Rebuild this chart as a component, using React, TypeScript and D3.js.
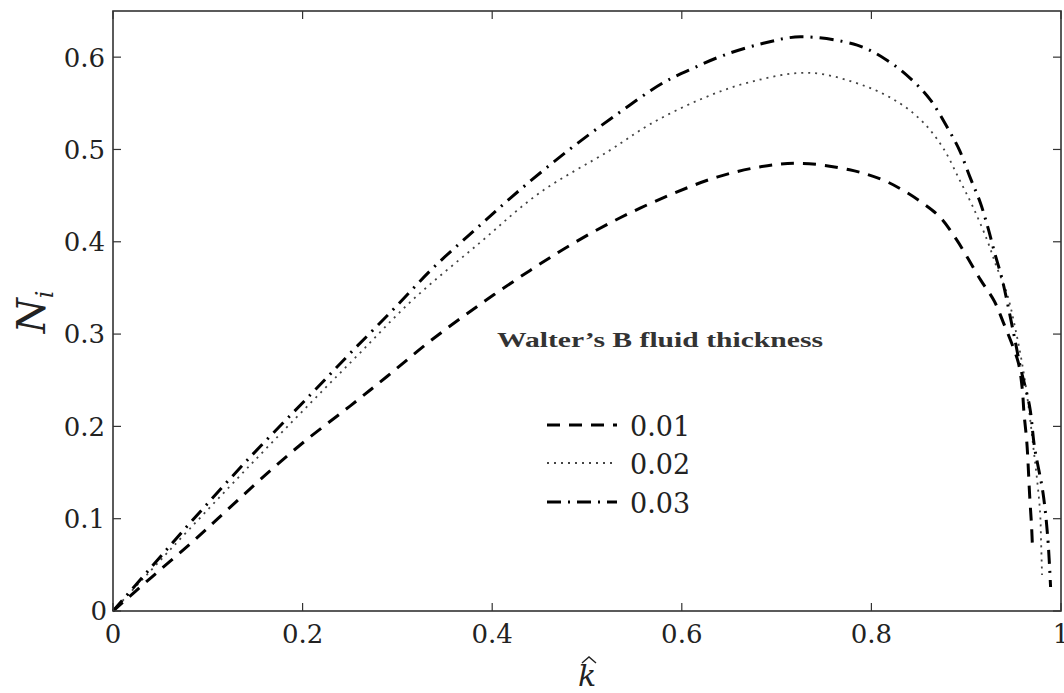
import React from "react";
import * as d3 from "d3";

// ---- data ----
const kDash01 = [0, 0.04, 0.084, 0.12, 0.155, 0.2, 0.25, 0.289, 0.334, 0.387, 0.44, 0.485, 0.535, 0.588, 0.637, 0.682, 0.725, 0.777, 0.812, 0.833, 0.854, 0.872, 0.89, 0.915, 0.93, 0.939, 0.948, 0.955, 0.959, 0.961, 0.964, 0.967, 0.969, 0.97];
const nDash01 = [0, 0.036, 0.075, 0.109, 0.142, 0.182, 0.222, 0.254, 0.292, 0.332, 0.369, 0.398, 0.426, 0.451, 0.47, 0.481, 0.485, 0.478, 0.467, 0.456, 0.442, 0.427, 0.402, 0.359, 0.335, 0.313, 0.29, 0.269, 0.242, 0.214, 0.182, 0.124, 0.091, 0.066];

const kDot02 = [0, 0.04, 0.08, 0.14, 0.208, 0.26, 0.316, 0.387, 0.45, 0.524, 0.566, 0.619, 0.672, 0.735, 0.795, 0.83, 0.855, 0.876, 0.893, 0.907, 0.922, 0.932, 0.943, 0.952, 0.96, 0.966, 0.971, 0.975, 0.978, 0.979, 0.98];
const nDot02 = [0, 0.044, 0.088, 0.153, 0.225, 0.279, 0.337, 0.399, 0.453, 0.499, 0.527, 0.554, 0.573, 0.583, 0.568, 0.55, 0.529, 0.501, 0.467, 0.438, 0.402, 0.373, 0.344, 0.305, 0.262, 0.22, 0.176, 0.14, 0.106, 0.075, 0.039];

const kDashDot03 = [0, 0.04, 0.081, 0.144, 0.208, 0.25, 0.295, 0.338, 0.384, 0.429, 0.479, 0.53, 0.58, 0.612, 0.644, 0.686, 0.725, 0.785, 0.816, 0.841, 0.862, 0.88, 0.893, 0.904, 0.915, 0.923, 0.93, 0.938, 0.95, 0.957, 0.967, 0.972, 0.981, 0.986, 0.989];
const nDashDot03 = [0, 0.047, 0.095, 0.166, 0.234, 0.279, 0.326, 0.372, 0.415, 0.456, 0.498, 0.537, 0.572, 0.588, 0.602, 0.615, 0.622, 0.613, 0.597, 0.577, 0.554, 0.524, 0.499, 0.47, 0.442, 0.415, 0.388, 0.359, 0.301, 0.265, 0.221, 0.178, 0.128, 0.08, 0.026];

const seriesLabels = ["0.01", "0.02", "0.03"];
const xTicks = [0, 0.2, 0.4, 0.6, 0.8, 1];
const yTicks = [0, 0.1, 0.2, 0.3, 0.4, 0.5, 0.6];
const legendTitle = "Walter\u2019s B fluid thickness";

const W = 1064, H = 693;
const M = { left: 113, right: 1061, top: 11, bottom: 611 };

export default function App() {
  const x = d3.scaleLinear().domain([0, 1]).range([M.left, M.right]);
  const y = d3.scaleLinear().domain([0, 0.65]).range([M.bottom, M.top]);
  const line = d3
    .line<[number, number]>()
    .x((d) => x(d[0]))
    .y((d) => y(d[1]))
    .curve(d3.curveCatmullRom.alpha(0.5));

  const series = [
    { label: seriesLabels[0], pts: kDash01.map((k, i) => [k, nDash01[i]] as [number, number]), dash: "13 9", width: 3, color: "#000" },
    { label: seriesLabels[1], pts: kDot02.map((k, i) => [k, nDot02[i]] as [number, number]), dash: "2 5", width: 1.8, color: "#444" },
    { label: seriesLabels[2], pts: kDashDot03.map((k, i) => [k, nDashDot03[i]] as [number, number]), dash: "14 7 2 7", width: 3, color: "#000" },
  ];

  const tickLen = 8;
  const tickFont = "'DejaVu Serif', serif";
  const legX0 = 547, legX1 = 617, legTextX = 630;
  const legYs = [425, 463, 502];

  return (
    <div style={{ position: "absolute", left: 0, top: 0 }}>
      <svg width={W} height={H} style={{ display: "block", background: "#fff" }}>
        {/* curves */}
        <g fill="none" strokeLinecap="butt">
          {series.map((s) => (
            <path key={s.label} d={line(s.pts) || ""} stroke={s.color} strokeWidth={s.width} strokeDasharray={s.dash} />
          ))}
        </g>

        {/* frame */}
        <rect x={M.left} y={M.top} width={M.right - M.left} height={M.bottom - M.top} fill="none" stroke="#333" strokeWidth={1.6} />

        {/* x ticks */}
        {xTicks.map((t) => (
          <g key={"x" + t}>
            <line x1={x(t)} x2={x(t)} y1={M.bottom} y2={M.bottom - tickLen} stroke="#333" strokeWidth={1.2} />
            <line x1={x(t)} x2={x(t)} y1={M.top} y2={M.top + tickLen} stroke="#333" strokeWidth={1.2} />
            <text x={x(t)} y={643} textAnchor="middle" fontFamily={tickFont} fontSize={26} fill="#222">
              {d3.format("~g")(t)}
            </text>
          </g>
        ))}

        {/* y ticks */}
        {yTicks.map((t) => (
          <g key={"y" + t}>
            <line x1={M.left} x2={M.left + tickLen} y1={y(t)} y2={y(t)} stroke="#333" strokeWidth={1.2} />
            <line x1={M.right} x2={M.right - tickLen} y1={y(t)} y2={y(t)} stroke="#333" strokeWidth={1.2} />
            <text x={t === 0 ? 107 : 105} y={y(t)} dy="0.36em" textAnchor="end" fontFamily={tickFont} fontSize={26} fill="#222">
              {d3.format("~g")(t)}
            </text>
          </g>
        ))}

        {/* axis labels */}
        <text transform="translate(45,312) rotate(-90)" textAnchor="middle" fontFamily={tickFont} fontStyle="italic" fontSize={40} fill="#222">
          N<tspan fontSize={24} dy={8}>i</tspan>
        </text>
        <g transform={`translate(${x(0.5)},686)`}>
          <text x={0} y={0} textAnchor="middle" fontFamily={tickFont} fontStyle="italic" fontSize={30} fill="#222">k</text>
          <path d="M -5 -23 L 2 -29 L 9 -23" fill="none" stroke="#222" strokeWidth={1.4} />
        </g>

        {/* legend */}
        <text
          x={497}
          y={347}
          textLength={326}
          lengthAdjust="spacingAndGlyphs"
          fontFamily="'Liberation Serif', 'Times New Roman', serif"
          fontWeight="bold"
          fontSize={22}
          fill="#333"
        >
          {legendTitle}
        </text>
        {series.map((s, i) => (
          <g key={"leg" + s.label}>
            <line x1={legX0} x2={legX1} y1={legYs[i]} y2={legYs[i]} stroke={s.color} strokeWidth={s.width} strokeDasharray={s.dash} />
            <text x={legTextX} y={legYs[i] + 11} fontFamily={tickFont} fontSize={27} fill="#222">
              {s.label}
            </text>
          </g>
        ))}
      </svg>
    </div>
  );
}
